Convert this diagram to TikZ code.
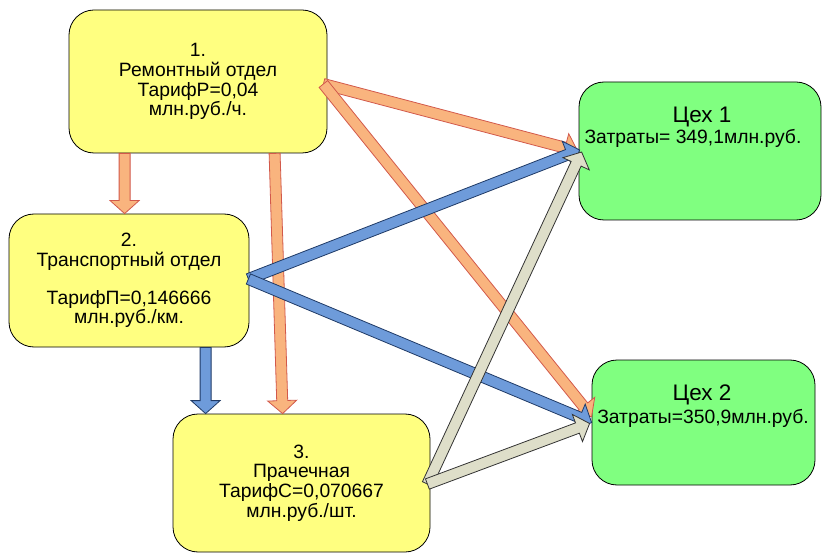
\documentclass[tikz,border=0pt]{standalone}
\usepackage{fontspec}
\setmainfont{Liberation Sans}
\usetikzlibrary{calc}

\definecolor{boxyellow}{HTML}{FFFF80}
\definecolor{boxgreen}{HTML}{80FF80}
\definecolor{orfill}{HTML}{F9B47E}
\definecolor{ordraw}{HTML}{D2594B}
\definecolor{blfill}{HTML}{6E9BDA}
\definecolor{bldraw}{HTML}{1F3A66}
\definecolor{grfill}{HTML}{DEDEC9}
\definecolor{grdraw}{HTML}{333333}

% block arrow from #2 to #3: shaft 11pt wide, head 29pt wide and 13pt long
\newcommand\fatarrow[3][]{%
  \coordinate (fa-neck) at ($(#3)!13pt!(#2)$);
  \draw[#1] ($(#2)!5.5pt!90:(#3)$) -- ($(fa-neck)!5.5pt!90:(#3)$)
    -- ($(fa-neck)!14.5pt!90:(#3)$) -- (#3)
    -- ($(fa-neck)!14.5pt!-90:(#3)$) -- ($(fa-neck)!5.5pt!-90:(#3)$)
    -- ($(#2)!5.5pt!-90:(#3)$) -- cycle;}

\begin{document}
\begin{tikzpicture}[x=1pt,y=-1pt,
  box/.style={draw=black, line width=0.8pt, rounded corners=25pt, align=center,
    inner sep=0pt, font=\fontsize{19.3}{19.8}\selectfont},
  dept/.style={box, fill=boxyellow},
  shop/.style={box, fill=boxgreen},
  lbl/.style={inner sep=0pt, font=\fontsize{19.3}{20}\selectfont},
  ttl/.style={inner sep=0pt, font=\fontsize{22.5}{24}\selectfont},
  orarrow/.style={fill=orfill, draw=ordraw, line width=0.8pt, line join=miter},
  blarrow/.style={fill=blfill, draw=bldraw, line width=0.8pt, line join=miter},
  grarrow/.style={fill=grfill, draw=grdraw, line width=0.8pt, line join=miter}]
\useasboundingbox (0,0) rectangle (822,553);

% departments
\node[dept, minimum width=258pt, minimum height=143pt] (rem) at (198,81.5)
  {1.\\Ремонтный отдел\\ТарифР=0,04\\млн.руб./ч.};
\node[dept, minimum width=240pt, minimum height=133pt] (tr) at (129,280.5)
  {2.\\Транспортный отдел\\[18pt]ТарифП=0,146666\\млн.руб./км.};
\node[dept, minimum width=257pt, minimum height=138pt] (pr) at (301.5,483)
  {3.\\Прачечная\\ТарифС=0,070667\\млн.руб./шт.};

% workshops
\node[shop, minimum width=242pt, minimum height=138pt] (c1) at (700,151) {};
\node[shop, minimum width=223pt, minimum height=125pt] (c2) at (703.5,422.5) {};
\node[ttl] (c1t) at (702,117) {Цех 1};
\node[lbl] (c1c) at (693,138) {Затраты= 349,1млн.руб.};
\node[ttl] (c2t) at (702,395) {Цех 2};
\node[lbl] (c2c) at (703,418) {Затраты=350,9млн.руб.};

% arrow end points
\coordinate (rem-s1) at ($(rem.south west)+(56,0)$);
\coordinate (rem-s2) at ($(rem.south west)+(206,0)$);
\coordinate (rem-e) at ($(rem.east)+(-4,2.5)$);
\coordinate (tr-n) at ($(tr.north west)+(116,0)$);
\coordinate (tr-s) at ($(tr.south west)+(197,0)$);
\coordinate (tr-e) at ($(tr.east)+(-1,-1.5)$);
\coordinate (pr-n1) at ($(pr.north west)+(33,0)$);
\coordinate (pr-n2) at ($(pr.north west)+(110,0)$);
\coordinate (pr-e) at ($(pr.east)+(-3,1)$);
\coordinate (c1-o) at ($(c1.west)+(-1,0)$);
\coordinate (c1-b) at ($(c1.west)+(1,-1)$);
\coordinate (c1-g) at ($(c1.west)+(3,1)$);
\coordinate (c2-o) at ($(c2.west)+(0,-6)$);
\coordinate (c2-b) at ($(c2.west)+(0,0)$);
\coordinate (c2-g) at ($(c2.west)+(-2,1)$);

% repair department
\fatarrow[orarrow]{rem-s1}{tr-n}
\fatarrow[orarrow]{rem-s2}{pr-n2}
\fatarrow[orarrow]{rem-e}{c1-o}
\fatarrow[orarrow]{rem-e}{c2-o}
% transport department
\fatarrow[blarrow]{tr-s}{pr-n1}
\fatarrow[blarrow]{tr-e}{c1-b}
\fatarrow[blarrow]{tr-e}{c2-b}
% laundry
\fatarrow[grarrow]{pr-e}{c1-g}
\fatarrow[grarrow]{pr-e}{c2-g}
\end{tikzpicture}
\end{document}
